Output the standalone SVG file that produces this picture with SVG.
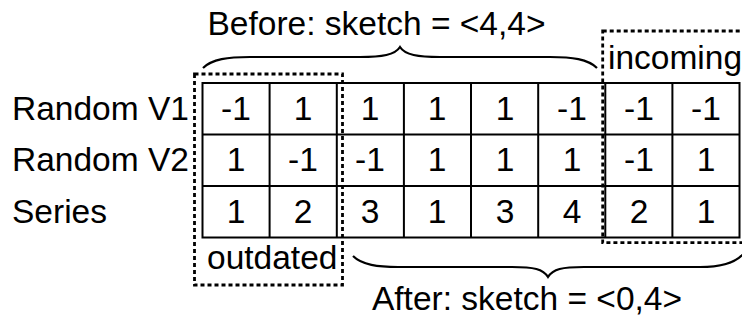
<svg xmlns="http://www.w3.org/2000/svg" width="742" height="320" viewBox="0 0 742 320">
  <style>
    text { font-family: "Liberation Sans", Arial, sans-serif; font-size: 33.5px; fill: #000; }
    .cell text, text.v { text-anchor: middle; }
    .grid { fill: none; stroke: #000; stroke-width: 2; }
    .dash { fill: none; stroke: #000; stroke-width: 2.8; stroke-dasharray: 4 3; }
    .brace { fill: none; stroke: #000; stroke-width: 2.2; }
  </style>
  <rect width="742" height="320" fill="#fff"/>

  <!-- row labels -->
  <g id="labels">
    <text x="12" y="120">Random V1</text>
    <text x="12" y="171">Random V2</text>
    <text x="12" y="223">Series</text>
  </g>

  <!-- table grid: 8 columns x 3 rows -->
  <g id="table">
    <g class="grid">
      <rect x="202.5" y="83" width="537" height="154.5"/>
      <path d="M202.5,134.5H739.5M202.5,186H739.5"/>
      <path d="M269.6,83V237.5M336.8,83V237.5M403.9,83V237.5M471,83V237.5M538.2,83V237.5M605.3,83V237.5M672.4,83V237.5"/>
    </g>
    <g class="cell">
      <text class="v" x="236" y="120">-1</text>
      <text class="v" x="303" y="120">1</text>
      <text class="v" x="370" y="120">1</text>
      <text class="v" x="437" y="120">1</text>
      <text class="v" x="505" y="120">1</text>
      <text class="v" x="572" y="120">-1</text>
      <text class="v" x="639" y="120">-1</text>
      <text class="v" x="706" y="120">-1</text>

      <text class="v" x="236" y="171">1</text>
      <text class="v" x="303" y="171">-1</text>
      <text class="v" x="370" y="171">-1</text>
      <text class="v" x="437" y="171">1</text>
      <text class="v" x="505" y="171">1</text>
      <text class="v" x="572" y="171">1</text>
      <text class="v" x="639" y="171">-1</text>
      <text class="v" x="706" y="171">1</text>

      <text class="v" x="236" y="223">1</text>
      <text class="v" x="303" y="223">2</text>
      <text class="v" x="370" y="223">3</text>
      <text class="v" x="437" y="223">1</text>
      <text class="v" x="505" y="223">3</text>
      <text class="v" x="572" y="223">4</text>
      <text class="v" x="639" y="223">2</text>
      <text class="v" x="706" y="223">1</text>
    </g>
  </g>

  <!-- outdated window -->
  <g id="outdated">
    <rect class="dash" x="194.5" y="74" width="148" height="211"/>
    <text x="207" y="269">outdated</text>
  </g>

  <!-- incoming window -->
  <g id="incoming">
    <rect class="dash" x="602.7" y="31" width="150" height="211.7"/>
    <text x="608" y="69">incoming</text>
  </g>

  <!-- braces -->
  <g id="connectors">
    <path class="brace" d="M203,68 C212,59 228,57 250,57 L360,57 C382,57 395,55 400,47 C405,55 418,57 440,57 L550,57 C572,57 588,59 597,68"/>
    <path class="brace" d="M353,256 C362,265 378,267 398,267 L512,267 C534,267 543,269 548,277 C553,269 562,267 584,267 L700,267 C722,267 736,263 744,253"/>
  </g>

  <g id="captions">
    <text class="v" x="376.5" y="35">Before: sketch = &lt;4,4&gt;</text>
    <text class="v" x="527" y="310">After: sketch = &lt;0,4&gt;</text>
  </g>
</svg>
